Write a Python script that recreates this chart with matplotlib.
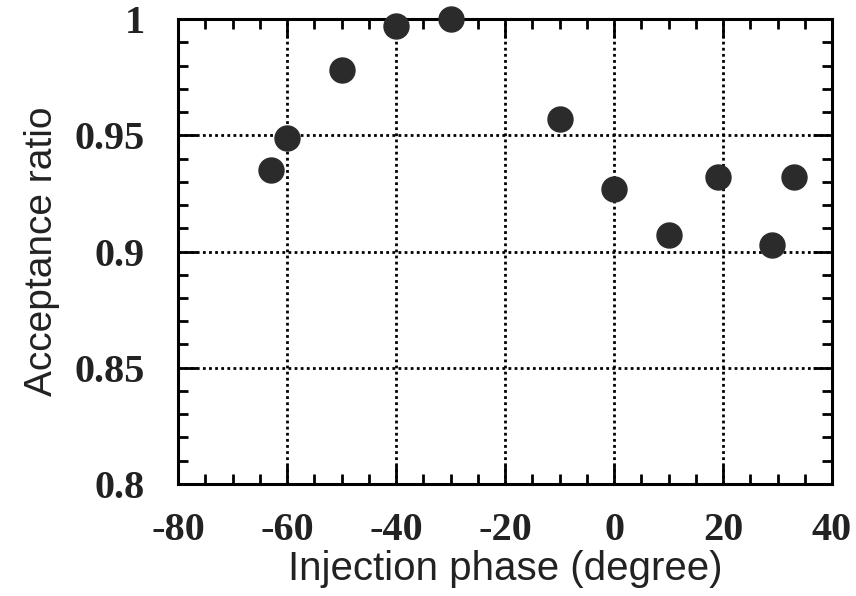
import numpy as np
import matplotlib.pyplot as plt
from matplotlib.ticker import MultipleLocator

plt.rcParams['axes.unicode_minus'] = False

# Data
phase = [-63, -60, -50, -40, -30, -10, 0, 10, 19, 29, 33]
acceptance = [0.935, 0.949, 0.978, 0.997, 1.0, 0.957, 0.927, 0.907, 0.932, 0.903, 0.932]

x_ticks = [-80, -60, -40, -20, 0, 20, 40]
y_ticks = [0.8, 0.85, 0.9, 0.95, 1.0]
y_tick_labels = ['0.8', '0.85', '0.9', '0.95', '1']

fig = plt.figure(figsize=(8.56, 5.96), dpi=100)
ax = fig.add_axes([0.208, 0.188, 0.764, 0.780])

ax.plot(phase, acceptance, 'o', color='#2b2b2b', markersize=18, clip_on=False, zorder=5)

ax.set_xlim(-80, 40)
ax.set_ylim(0.8, 1.0)
ax.set_xticks(x_ticks)
ax.set_yticks(y_ticks)
ax.set_yticklabels(y_tick_labels)
ax.xaxis.set_minor_locator(MultipleLocator(5))
ax.yaxis.set_minor_locator(MultipleLocator(0.01))

# ticks inside on all four sides
ax.tick_params(which='both', direction='in', top=True, right=True, width=2, color='black')
ax.tick_params(which='major', length=14)
ax.tick_params(axis='x', which='major', pad=20)
ax.tick_params(axis='y', which='major', pad=24)
ax.tick_params(which='minor', length=7)
for lab in ax.get_xticklabels() + ax.get_yticklabels():
    lab.set_fontfamily('Liberation Serif')
    lab.set_fontweight('bold')
    lab.set_fontsize(29)
    lab.set_color('#222222')

for sp in ax.spines.values():
    sp.set_linewidth(2.2)

ax.grid(True, which='major', linestyle=(0, (1, 1.2)), color='black', linewidth=2)

ax.set_xlabel('Injection phase (degree)', fontfamily='Liberation Sans', fontsize=29,
              color='#222222', labelpad=1)
ax.set_ylabel('Acceptance ratio', fontfamily='Liberation Sans', fontsize=28,
              color='#222222', labelpad=10)

fig.savefig('out.png', dpi=100)
